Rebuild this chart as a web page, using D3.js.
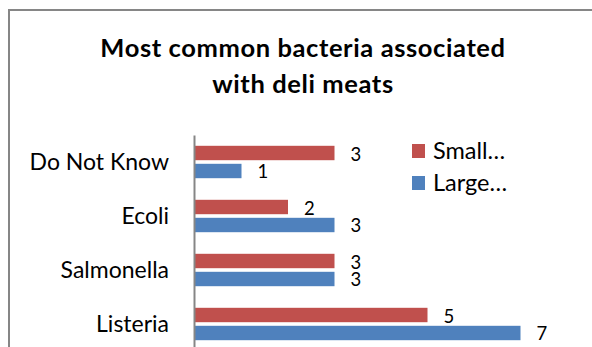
<!DOCTYPE html>
<html>
<head>
<meta charset="utf-8">
<script src="https://cdn.jsdelivr.net/npm/d3@7"></script>
<style>
  html, body { margin: 0; padding: 0; background: #fff; }
  svg { display: block; }
  text { font-family: Lato, "Open Sans", sans-serif; fill: #000; }
</style>
</head>
<body>
<svg id="chart" width="592" height="347"></svg>
<script>
const categories = ["Do Not Know", "Ecoli", "Salmonella", "Listeria"];
const seriesNames = ["Small…", "Large…"];
const smallValues = [3, 2, 3, 5];
const largeValues = [1, 3, 3, 7];
const titleLines = ["Most common bacteria associated", "with deli meats"];
const colors = ["#C0504D", "#4F81BD"];

const svg = d3.select("#chart");

// chart frame
svg.append("rect")
  .attr("x", 9).attr("y", 10)
  .attr("width", 620).attr("height", 400)
  .attr("fill", "#fff")
  .attr("stroke", "#868686")
  .attr("stroke-width", 2);

// title
svg.append("g").selectAll("text")
  .data(titleLines)
  .join("text")
  .attr("x", 303)
  .attr("y", (d, i) => 57 + i * 36)
  .attr("text-anchor", "middle")
  .attr("font-weight", "bold")
  .attr("font-size", 25.5)
  .attr("letter-spacing", 0.6)
  .text(d => d);

const x = d3.scaleLinear().domain([0, 8]).range([195, 567]);
const y0 = d3.scaleBand().domain(categories).range([135, 351])
  .paddingInner(0.4).paddingOuter(0.2);
const y1 = d3.scaleBand().domain(seriesNames).range([0, y0.bandwidth()])
  .paddingInner(0.2);

const rows = categories.map((c, i) => ({
  cat: c,
  vals: [
    { s: seriesNames[0], v: smallValues[i], c: colors[0] },
    { s: seriesNames[1], v: largeValues[i], c: colors[1] }
  ]
}));

const groups = svg.append("g").selectAll("g")
  .data(rows)
  .join("g")
  .attr("transform", d => `translate(0,${y0(d.cat)})`);

groups.selectAll("rect")
  .data(d => d.vals)
  .join("rect")
  .attr("x", x(0))
  .attr("y", d => y1(d.s))
  .attr("width", d => x(d.v) - x(0))
  .attr("height", y1.bandwidth())
  .attr("fill", d => d.c);

groups.selectAll("text")
  .data(d => d.vals)
  .join("text")
  .attr("x", d => x(d.v) + 16)
  .attr("y", d => y1(d.s) + y1.bandwidth() / 2 + 7.5)
  .attr("font-size", 18.5)
  .text(d => d.v);

// category axis
const axisG = svg.append("g")
  .attr("transform", "translate(194,0)")
  .call(d3.axisLeft(d3.scaleBand().domain(categories).range([135, 351]))
    .tickSize(0).tickPadding(25));
axisG.select(".domain").attr("stroke", "#868686").attr("stroke-width", 2);
axisG.selectAll(".tick text")
  .attr("font-size", 23)
  .attr("font-family", "Lato, 'Open Sans', sans-serif")
  .attr("fill", "#000")
  .attr("dy", "0.36em");

// legend
const legend = svg.append("g").selectAll("g")
  .data(seriesNames)
  .join("g")
  .attr("transform", (d, i) => `translate(412,${144 + i * 32})`);
legend.append("rect")
  .attr("width", 13).attr("height", 14)
  .attr("fill", (d, i) => colors[i]);
legend.append("text")
  .attr("x", 21).attr("y", 14.5)
  .attr("font-size", 23.5)
  .text(d => d);
</script>
</body>
</html>
